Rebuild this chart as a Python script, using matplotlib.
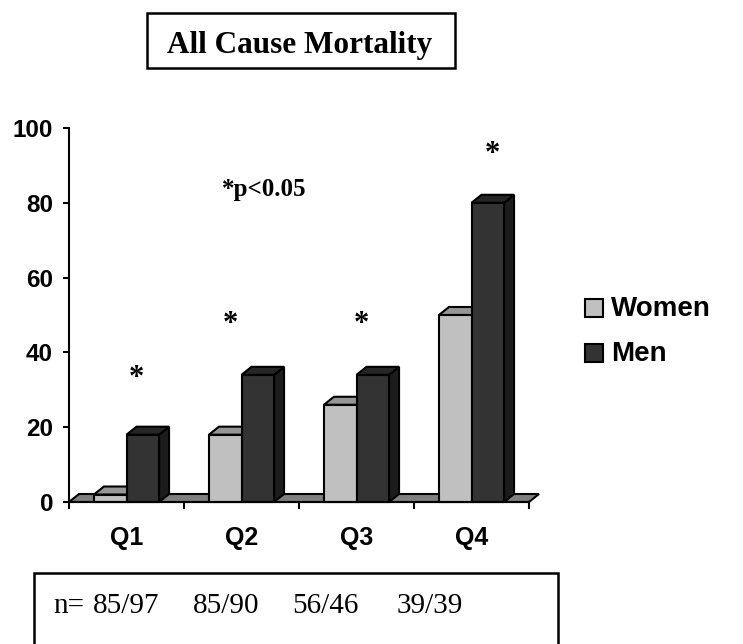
import matplotlib
matplotlib.use("Agg")
import matplotlib.pyplot as plt
from matplotlib.patches import Rectangle, Polygon

quartiles = ["Q1", "Q2", "Q3", "Q4"]
women = [2, 18, 26, 50]
men = [18, 34, 34, 80]
star_x = [0.59, 1.40, 2.54, 3.68]
star_y = [34.5, 49, 49, 94.5]
n_labels = ["85/97", "85/90", "56/46", "39/39"]

W, H = 743, 644
fig = plt.figure(figsize=(W / 100, H / 100), dpi=100)
ax = fig.add_axes([69 / W, 1 - 502 / H, 460 / W, 374 / H])

sans = "Liberation Sans"
serif = "Liberation Serif"

dx, dy = 0.087, 2.14
bw = 0.283
lw = 1.5

# floor strip
ax.add_patch(Polygon([(0, 0), (4, 0), (4 + dx, dy), (dx, dy)], closed=True,
                     fc="#808080", ec="k", lw=lw, clip_on=False, zorder=1))


def bar3d(x0, h, front, top, side):
    ax.add_patch(Polygon([(x0 + bw, 0), (x0 + bw + dx, dy), (x0 + bw + dx, h + dy), (x0 + bw, h)],
                         closed=True, fc=side, ec="k", lw=lw, clip_on=False, zorder=2))
    ax.add_patch(Polygon([(x0, h), (x0 + bw, h), (x0 + bw + dx, h + dy), (x0 + dx, h + dy)],
                         closed=True, fc=top, ec="k", lw=lw, clip_on=False, zorder=2))
    ax.add_patch(Rectangle((x0, 0), bw, h, fc=front, ec="k", lw=lw, clip_on=False, zorder=2))


for i in range(len(quartiles)):
    c = i + 0.5
    bar3d(c - bw, women[i], "#C0C0C0", "#969696", "#808080")
    bar3d(c, men[i], "#333333", "#262626", "#1C1C1C")

for x, y in zip(star_x, star_y):
    ax.text(x, y - 1.5, "*", ha="center", va="center", fontsize=22, fontweight="bold",
            family=serif, zorder=3)

ax.set_xlim(0, 4)
ax.set_ylim(0, 100)
for s in ["top", "right"]:
    ax.spines[s].set_visible(False)
ax.spines["left"].set_linewidth(lw)
ax.spines["bottom"].set_linewidth(lw)
ax.set_yticks([0, 20, 40, 60, 80, 100])
ax.set_xticks([0, 1, 2, 3, 4])
ax.set_xticklabels([])
ax.set_xticks([0.5, 1.5, 2.5, 3.5], minor=True)
ax.set_xticklabels(quartiles, minor=True)
ax.tick_params(axis="y", direction="out", length=4.5, width=lw, pad=7, labelsize=17.5)
ax.tick_params(axis="x", which="major", direction="out", length=5, width=lw)
ax.tick_params(axis="x", which="minor", length=0, pad=17, labelsize=18)
for lab in ax.get_yticklabels() + ax.get_xticklabels(minor=True):
    lab.set_fontfamily(sans)
    lab.set_fontweight("bold")

ax.text(1.70, 83.5, "*p<0.05", ha="center", va="center", fontsize=18,
        fontweight="bold", family=serif)


def fx(x):
    return x / W


def fy(y):
    return 1 - y / H


# title box
fig.add_artist(Rectangle((fx(147), fy(68)), fx(455) - fx(147), fy(13) - fy(68),
                         transform=fig.transFigure, fill=False, ec="k", lw=1.8))
fig.text(fx(167), fy(53), "All Cause Mortality", fontsize=22.5, fontweight="bold",
         family=serif, va="baseline")

# legend
for yy, col, lab in [(308, "#C0C0C0", "Women"), (353, "#333333", "Men")]:
    fig.add_artist(Rectangle((fx(585), fy(yy + 9)), fx(603) - fx(585), fy(yy - 9) - fy(yy + 9),
                             transform=fig.transFigure, fc=col, ec="k", lw=1.5))
    fig.text(fx(611), fy(yy + 1), lab, fontsize=20, fontweight="bold", family=sans,
             va="center")

# sample size box
fig.add_artist(Rectangle((fx(34), fy(660)), fx(558) - fx(34), fy(573) - fy(660),
                         transform=fig.transFigure, fill=False, ec="k", lw=1.8))
fig.text(fx(53), fy(613), "n=", fontsize=21, family=serif, va="baseline")
for xx, lab in zip([93, 193, 292, 397], n_labels):
    fig.text(fx(xx), fy(613), lab, fontsize=21, family=serif, va="baseline")

fig.savefig("out.png", dpi=100)
